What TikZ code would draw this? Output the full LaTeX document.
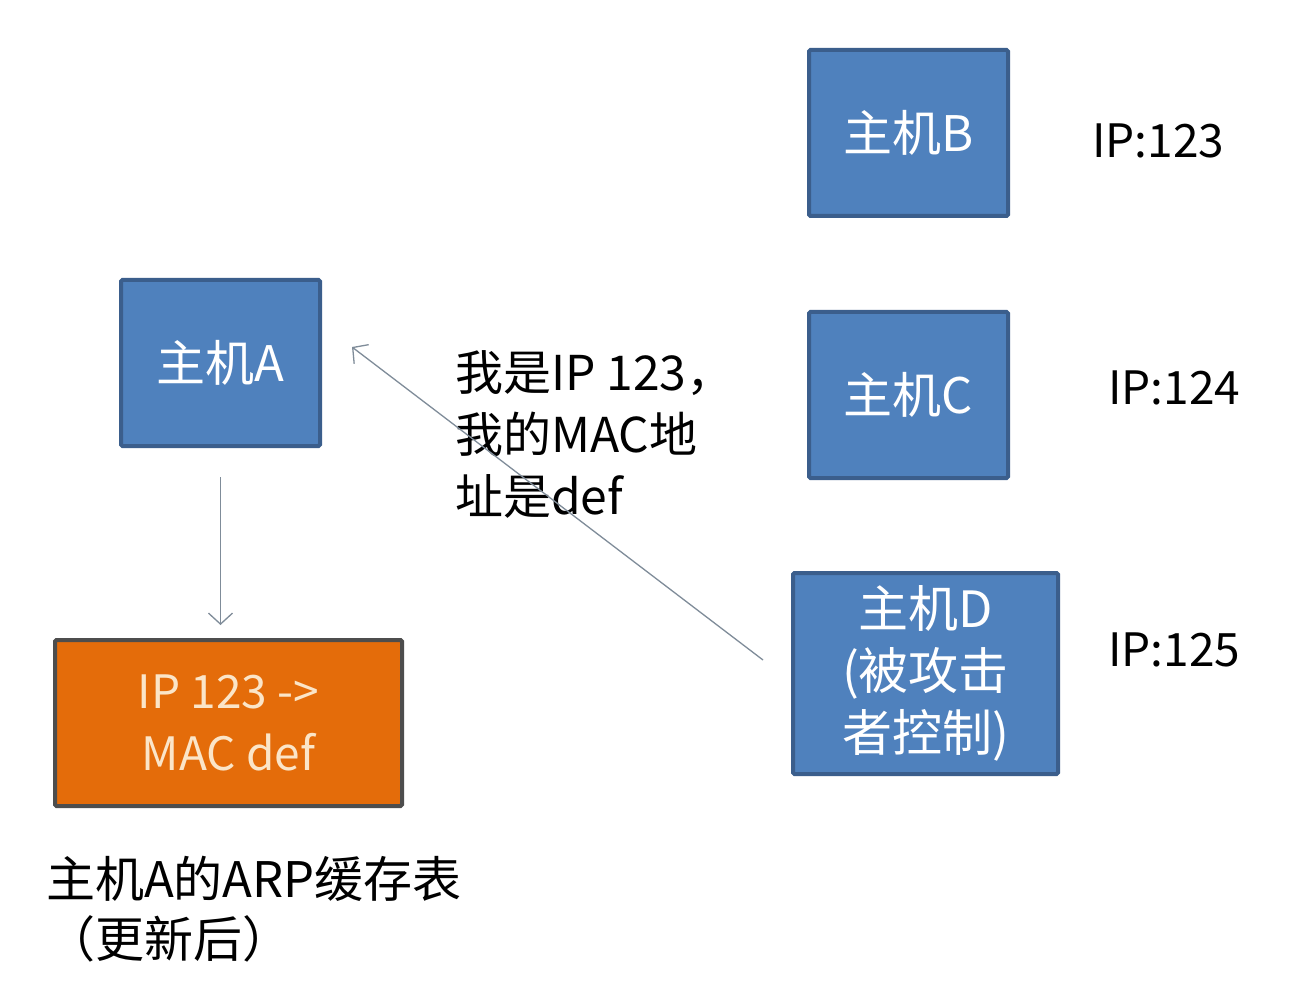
\documentclass[tikz,border=0pt]{standalone}
\usepackage{fontspec}
\setmainfont{Noto Sans CJK SC}
\usetikzlibrary{arrows.meta}
\definecolor{boxblue}{HTML}{4F81BD}
\definecolor{boxedge}{HTML}{3B5E8C}
\definecolor{boxorange}{HTML}{E46C0A}
\definecolor{orangeedge}{HTML}{4D4D4D}
\definecolor{paletext}{HTML}{FBE5C8}
\definecolor{linegray}{HTML}{7F8C99}
\begin{document}
\begin{tikzpicture}[x=1pt,y=-1pt,
  host/.style={draw=boxedge,line width=4pt,fill=boxblue,rounded corners=1.5pt,text=white,font=\fontsize{49}{62}\selectfont,align=center,inner sep=0pt},
  cache/.style={draw=orangeedge,line width=4pt,fill=boxorange,rounded corners=1.5pt,text=paletext,font=\fontsize{46}{62}\selectfont,align=center,inner sep=0pt},
  lbl/.style={font=\fontsize{46}{62}\selectfont,text=black,inner sep=0pt},
  conn/.style={draw=linegray,line width=1.3pt,-{Straight Barb[length=11pt,width=24pt,line width=1.3pt]}}]
\useasboundingbox (0,0) rectangle (1302,1000);
\fill[white] (0,0) rectangle (1302,1000);
\node[host,minimum width=199pt,minimum height=166pt] (A) at (220.5,363) {主机A};
\node[host,minimum width=199pt,minimum height=166pt] (B) at (908.5,133) {主机B};
\node[host,minimum width=199pt,minimum height=166pt] (C) at (908.5,395) {主机C};
\node[host,minimum width=265pt,minimum height=201pt,font=\fontsize{50}{62}\selectfont] (D) at (925.5,673.5) {主机D\\(被攻击\\者控制)};
\node[cache,minimum width=347pt,minimum height=166pt] (T) at (228.5,723) {IP 123 ->\\MAC def};
\node[lbl,anchor=west] (ipb) at (1092,141) {IP:123};
\node[lbl,anchor=west] (ipc) at (1108,388) {IP:124};
\node[lbl,anchor=west] (ipd) at (1108,650) {IP:125};
\node[lbl,anchor=north west,align=left,font=\fontsize{48}{62}\selectfont] (msg) at (455,350) {我是IP 123，\\我的MAC地\\址是def};
\node[lbl,anchor=north west,align=left,font=\fontsize{49}{60}\selectfont] (cap) at (46,856) {主机A的ARP缓存表\\（更新后）};
\coordinate (dstart) at (763,660);
\coordinate (aend) at (352,347);
\coordinate (ts) at (220.5,477);
\coordinate (te) at (220.5,625);
\draw[conn] (dstart) -- (aend);
\draw[conn] (ts) -- (te);
\end{tikzpicture}
\end{document}
